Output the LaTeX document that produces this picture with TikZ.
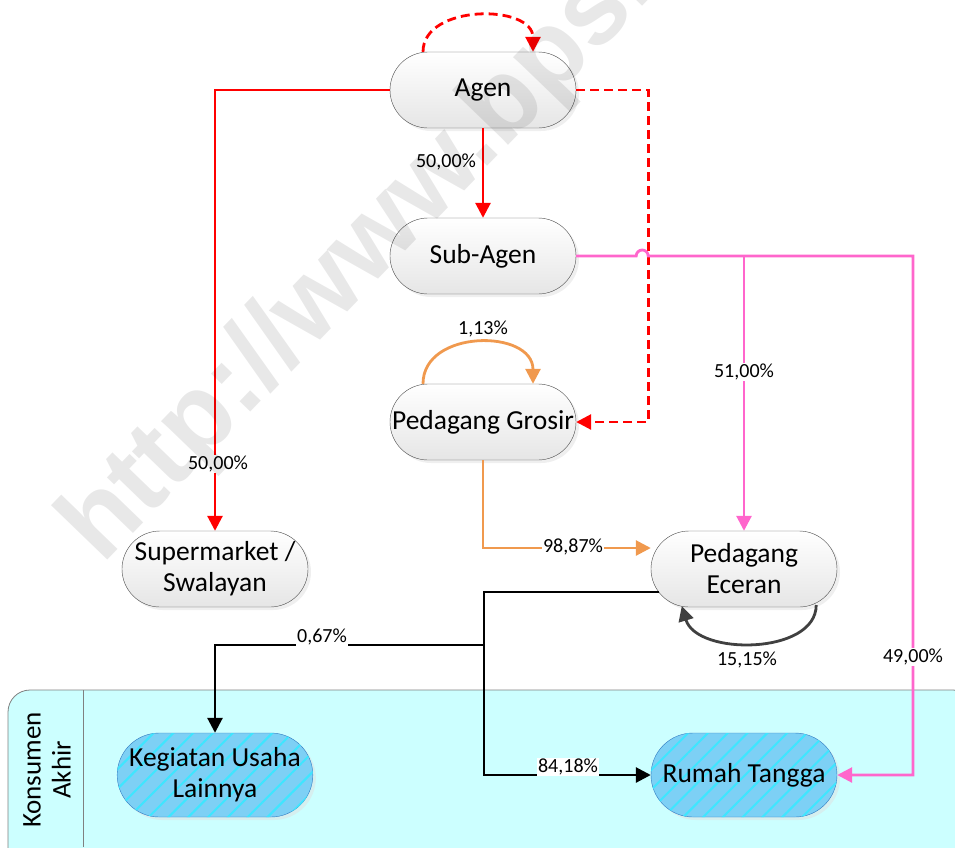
\documentclass[tikz,border=0pt]{standalone}
\usepackage{fontspec}
\setmainfont{Carlito}
\newfontfamily\wmfont{Liberation Sans}
\usetikzlibrary{arrows.meta,positioning,calc,shapes.misc,shadows,patterns.meta}
\definecolor{redln}{HTML}{FF0000}
\definecolor{pinkln}{HTML}{FF66CC}
\definecolor{orangeln}{HTML}{F0994E}
\definecolor{loopln}{HTML}{404040}
\definecolor{lanefill}{HTML}{CCFFFF}
\definecolor{konfill}{HTML}{7DD0F5}
\definecolor{konstripe}{HTML}{3EE6FF}
\definecolor{konedge}{HTML}{2E78C0}

\begin{document}
\begin{tikzpicture}[x=1pt,y=-1pt,
pill/.style={rounded rectangle,thin,minimum width=190pt,minimum height=76pt,inner xsep=2pt,align=center,font=\fontsize{27.5}{31}\selectfont,drop shadow={shadow xshift=3pt,shadow yshift=-3pt,fill=black!12}},
box/.style={pill,draw=black!70,top color=white,bottom color=black!10},
kon/.style={pill,draw=konedge,fill=konfill,minimum height=84pt,postaction={pattern={Lines[angle=45,distance=14pt,line width=2pt]},pattern color=konstripe}},
arr/.style={-{Triangle[length=15pt,width=15pt]},line width=2.8pt},
lab/.style={font=\fontsize{20}{22}\selectfont,fill=white,inner sep=1pt},
lane/.style={draw=black!50,thick,fill=lanefill,rounded corners=22pt}]
\useasboundingbox (0,0) rectangle (955,847);
% lane for the final consumers
\draw[lane] (8,690) rectangle (975,880);
\draw[black!50,thick] (83,690) -- (83,847);
\node[rotate=90,align=center,font=\fontsize{27}{30}\selectfont] (lanetitle) at (47,770) {Konsumen\\Akhir};
% nodes
\node[box] (agen) at (483,90) {Agen};
\node[box] (sub) at (483,256) {Sub-Agen};
\node[box] (grosir) at (483,422) {Pedagang Grosir};
\node[box] (super) at (215,569) {Supermarket /\\Swalayan};
\node[box] (eceran) at (744,569) {Pedagang\\Eceran};
\node[kon] (usaha) at (215,775) {Kegiatan Usaha\\Lainnya};
\node[kon] (rumah) at (744,775) {Rumah Tangga};
\coordinate (pk) at (913,256);\coordinate (bj) at (484,592);\coordinate (bk) at (484,645);
% red flows from Agen
\draw[arr,redln,dash pattern=on 9pt off 5pt] ($(agen.north)+(-60,0)$) .. controls +(0,-48) and +(0,-48) .. ($(agen.north)+(50,0)$);
\draw[arr,redln] (agen.west) -| (super.north);\draw[arr,redln] (agen.south) -- (sub.north);
\draw[arr,redln,dash pattern=on 9pt off 5pt] (agen.east) -- ++(72,0) |- (grosir.east);
% pink flows from Sub-Agen
\draw[arr,pinkln] (sub.east) -- ++(60,0) arc[start angle=180,end angle=0,radius=6pt] -- (pk) |- (rumah.east);
\draw[arr,pinkln] (sub.east -| eceran.north) -- (eceran.north);
% orange flows from Pedagang Grosir
\draw[arr,orangeln] ($(grosir.north)+(-60,0)$) .. controls +(0,-55) and +(0,-55) .. ($(grosir.north)+(50,0)$);
\draw[arr,orangeln] (grosir.south) |- ($(eceran.west)+(0,-21)$);
% black flows from Pedagang Eceran
\draw[arr,loopln] ($(eceran.east)+(-21,36)$) .. controls +(0,50) and +(15,50) .. ($(eceran.west)+(31,37)$);
\draw[arr] ($(eceran.west)+(8,23)$) -- (bj) |- (rumah.west);\draw[arr] (bk) -| (usaha.north);
% shares
\node[lab] (l1) at (446,162) {50,00\%};\node[lab] (l2) at (218,464) {50,00\%};
\node[lab] (l3) at (744,372) {51,00\%};\node[lab] (l4) at (913,657) {49,00\%};
\node[lab] (l5) at (483,329) {1,13\%};\node[lab] (l6) at (573,547) {98,87\%};
\node[lab] (l7) at (747,660) {15,15\%};\node[lab] (l8) at (322,637) {0,67\%};
\node[lab] (l9) at (568,767) {84,18\%};
% watermark
\node[anchor=base west,rotate=46,font=\wmfont\bfseries\fontsize{108}{108}\selectfont,text=black,text opacity=0.09,inner sep=0pt] (wmark) at (102,566) {http://www.bps.go.id};
\end{tikzpicture}
\end{document}
